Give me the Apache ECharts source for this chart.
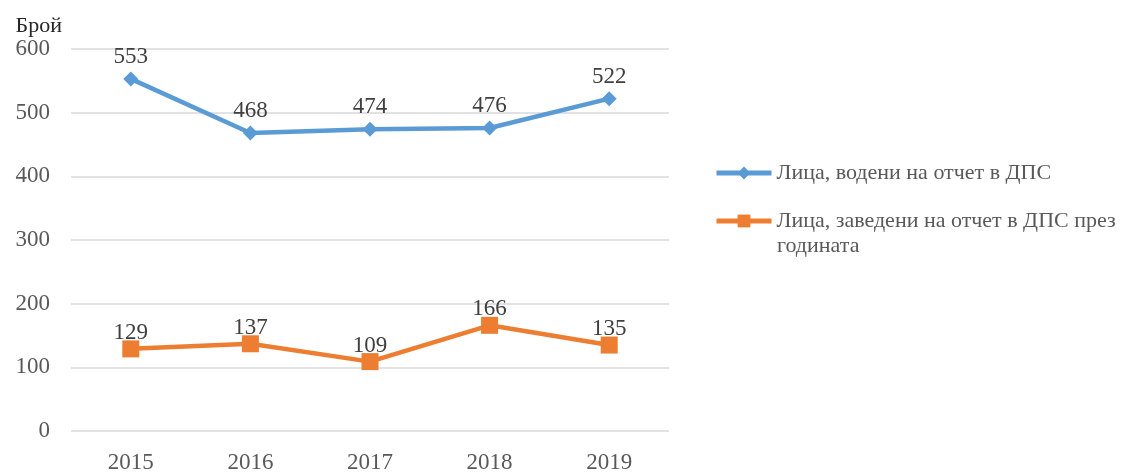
<!DOCTYPE html>
<html>
<head>
<meta charset="utf-8">
<script src="https://cdn.jsdelivr.net/npm/echarts@6/dist/echarts.min.js"></script>
<style>
  html, body { margin: 0; padding: 0; background: #fff; }
  #chart { width: 1147px; height: 472px; }
</style>
</head>
<body>
<div id="chart"></div>
<script>
const years = ['2015', '2016', '2017', '2018', '2019']
const tracked = [553, 468, 474, 476, 522]
const admitted = [129, 137, 109, 166, 135]
const seriesNames = ['Лица, водени на отчет в ДПС', 'Лица, заведени на отчет в ДПС през годината']
const yTicks = [0, 100, 200, 300, 400, 500, 600]

const font = '"Liberation Serif", "Times New Roman", serif'
const grey = '#595959'

// the long legend entry wraps onto a second line, icon stays on the first
const wrapAt = seriesNames[1].lastIndexOf(' ')
const legendFirst = seriesNames[1].slice(0, wrapAt)
const legendSecond = seriesNames[1].slice(wrapAt + 1)

const chart = echarts.init(document.getElementById('chart'))
chart.setOption({
  animation: false,
  textStyle: { fontFamily: font },
  grid: { left: 71, right: 478, top: 49, bottom: 41, outerBoundsMode: 'none' },
  legend: {
    orient: 'vertical',
    left: 709,
    top: 153,
    itemWidth: 55,
    itemHeight: 16,
    itemGap: 18,
    lineStyle: { width: 5 },
    textStyle: { color: grey, fontSize: 22, fontFamily: font, lineHeight: 30 },
    formatter: name => (name === seriesNames[1] ? legendFirst : name),
    data: seriesNames
  },
  graphic: [{
    type: 'text',
    left: 777,
    top: 231,
    style: { text: legendSecond, fill: grey, fontSize: 22, fontFamily: font, lineHeight: 30 }
  }],
  xAxis: {
    type: 'category',
    data: years,
    axisTick: { show: false },
    axisLine: { show: false },
    axisLabel: { color: grey, fontSize: 23, fontFamily: font, margin: 20 }
  },
  yAxis: {
    type: 'value',
    min: yTicks[0],
    max: yTicks[yTicks.length - 1],
    interval: 100,
    name: 'Брой',
    nameLocation: 'end',
    nameGap: 12,
    nameTextStyle: { color: '#262626', fontSize: 22, fontFamily: font, align: 'right', padding: [0, 9, 0, 0] },
    axisLine: { show: false },
    axisTick: { show: false },
    axisLabel: { color: grey, fontSize: 23, fontFamily: font, margin: 21 },
    splitLine: { lineStyle: { color: '#d9d9d9', width: 1.5 } }
  },
  series: [
    {
      name: seriesNames[0],
      type: 'line',
      data: tracked,
      symbol: 'diamond',
      symbolSize: 15,
      lineStyle: { width: 4.5, color: '#5b9bd5' },
      itemStyle: { color: '#5b9bd5' },
      label: { show: true, position: 'top', distance: 3, color: '#404040', fontSize: 23, fontFamily: font }
    },
    {
      name: seriesNames[1],
      type: 'line',
      data: admitted,
      symbol: 'rect',
      symbolSize: 17,
      lineStyle: { width: 4.5, color: '#ed7d31' },
      itemStyle: { color: '#ed7d31' },
      label: { show: true, position: 'top', distance: -4, color: '#404040', fontSize: 23, fontFamily: font }
    }
  ]
})
</script>
</body>
</html>
